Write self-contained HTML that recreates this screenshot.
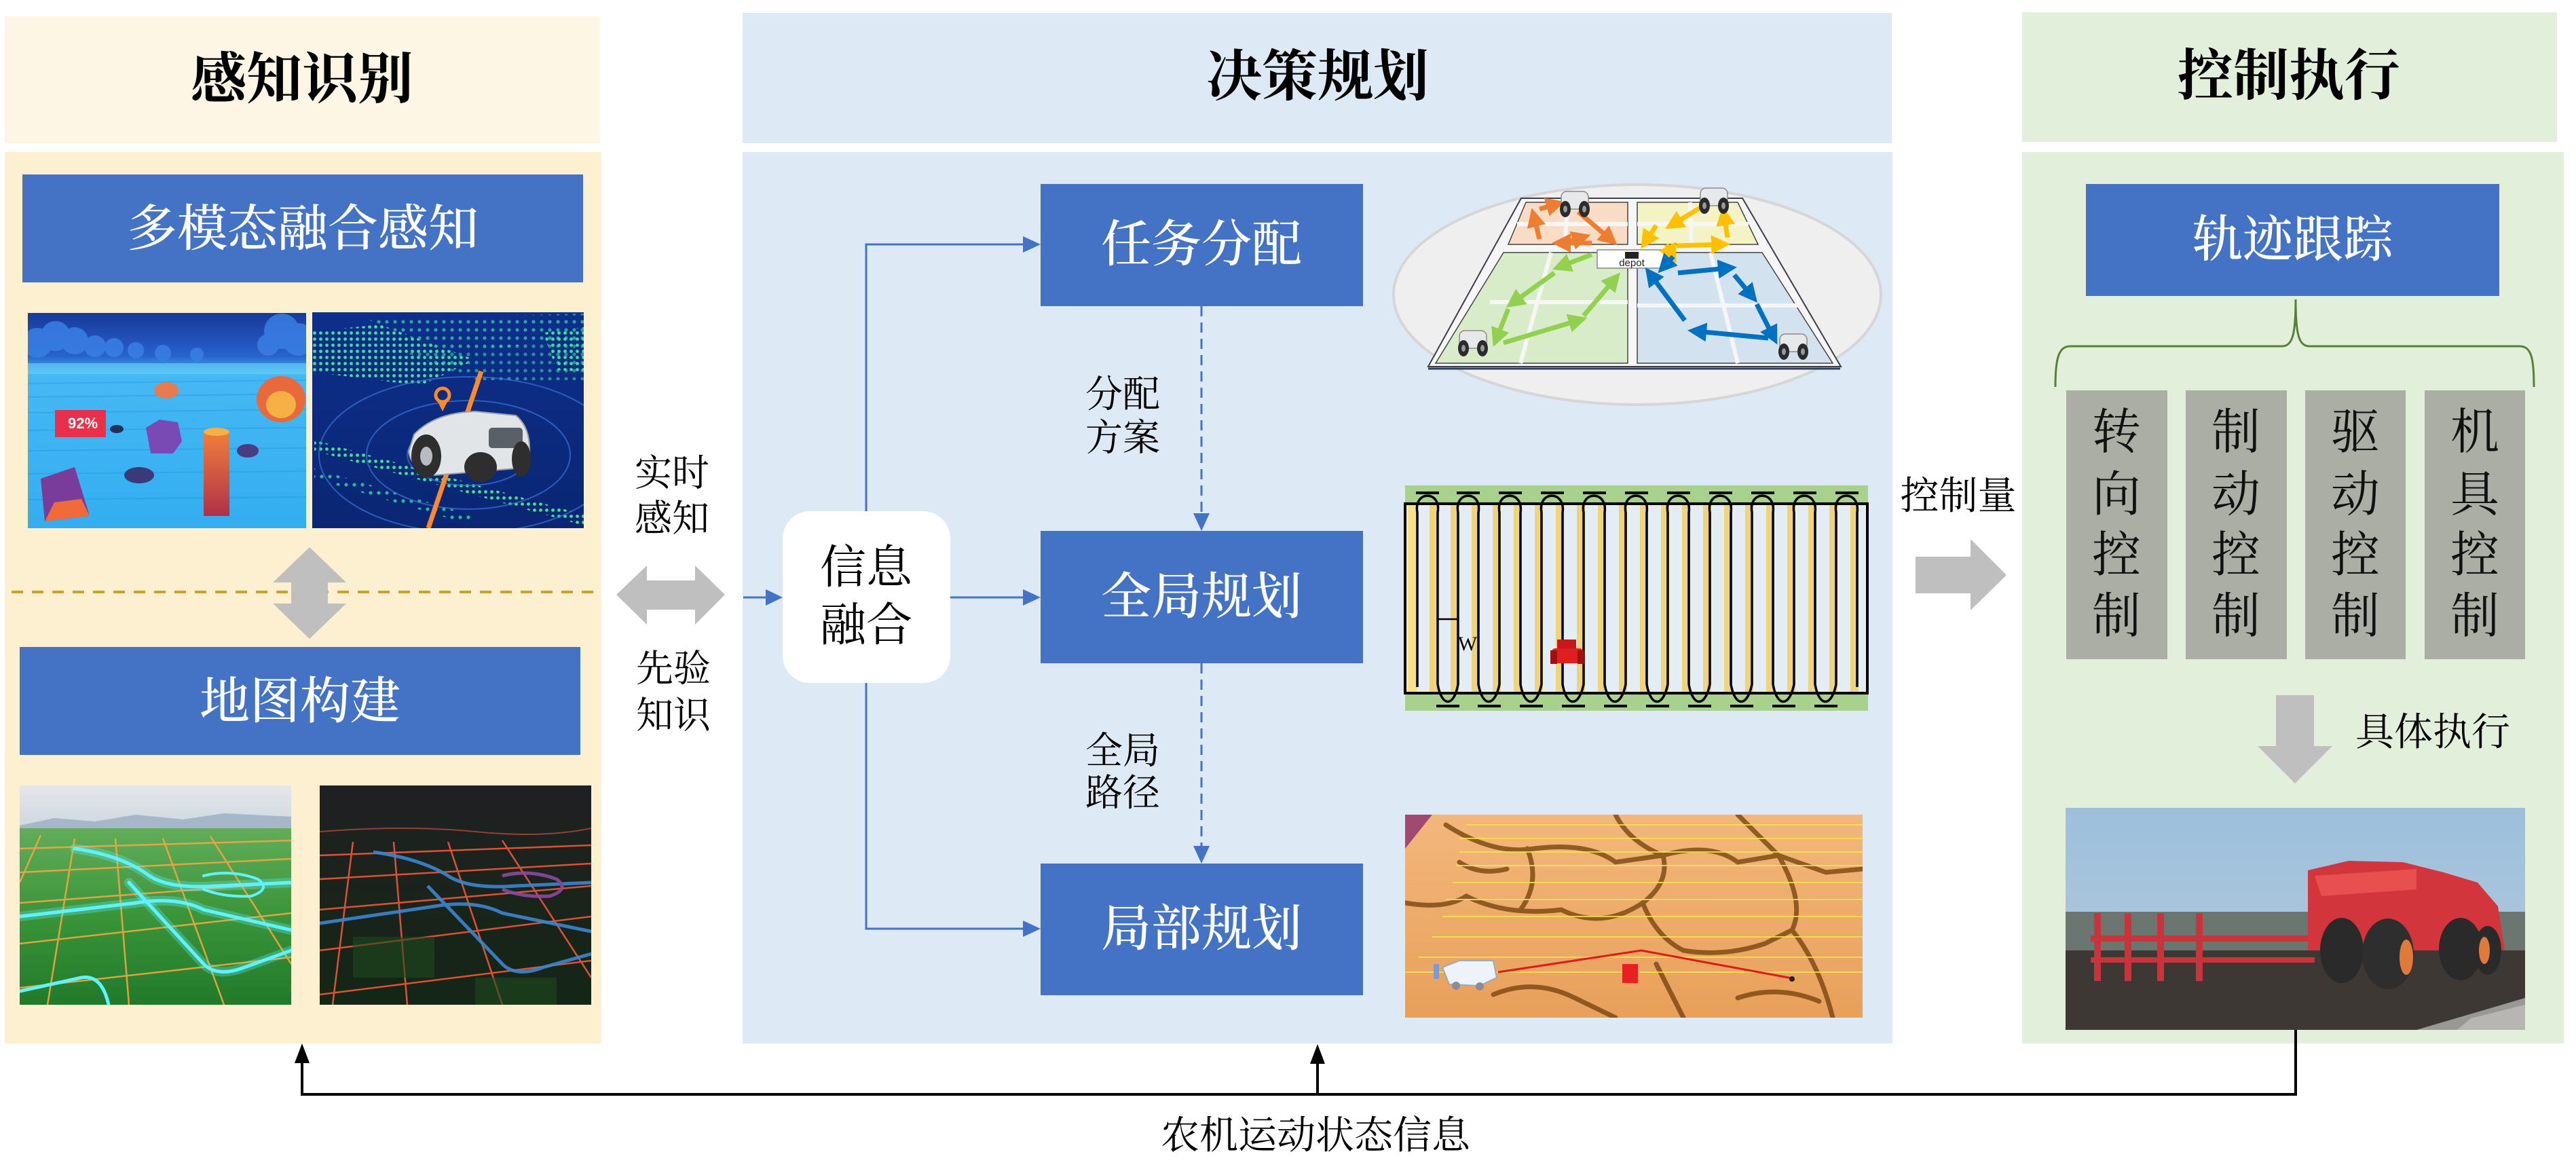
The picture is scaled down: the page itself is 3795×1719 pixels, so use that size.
<!DOCTYPE html>
<html><head><meta charset="utf-8"><style>
html,body{margin:0;padding:0;background:#fff;}
body{width:3795px;height:1719px;overflow:hidden;}
svg{display:block;}
.s{font-family:"Liberation Serif","Noto Serif CJK SC",serif;}
.h{font-family:"Liberation Serif","Noto Serif CJK SC",serif;font-weight:700;}
.w{font-family:"Liberation Serif","Noto Serif CJK SC",serif;font-weight:500;fill:#fff;}
</style></head><body>
<svg width="3795" height="1719" viewBox="0 0 3795 1719" xmlns="http://www.w3.org/2000/svg">
<defs>
<linearGradient id="g1" x1="0" y1="0" x2="0" y2="1"><stop offset="0" stop-color="#18399a"/><stop offset="0.2" stop-color="#2762cc"/><stop offset="0.28" stop-color="#46b8f4"/><stop offset="1" stop-color="#33aef0"/></linearGradient>
<linearGradient id="g2" x1="0" y1="0" x2="0" y2="1"><stop offset="0" stop-color="#0d2f8c"/><stop offset="1" stop-color="#0a2673"/></linearGradient>
<linearGradient id="g3" x1="0" y1="0" x2="0" y2="1"><stop offset="0" stop-color="#62ad5a"/><stop offset="0.5" stop-color="#3a9439"/><stop offset="1" stop-color="#217a2a"/></linearGradient>
<linearGradient id="g3s" x1="0" y1="0" x2="0" y2="1"><stop offset="0" stop-color="#e4e7ea"/><stop offset="1" stop-color="#cfd8e0"/></linearGradient>
<linearGradient id="g4" x1="0" y1="0" x2="0" y2="1"><stop offset="0" stop-color="#1f2023"/><stop offset="0.4" stop-color="#1b231c"/><stop offset="1" stop-color="#142616"/></linearGradient>
<linearGradient id="g5" x1="0" y1="0" x2="0" y2="1"><stop offset="0" stop-color="#f3b77c"/><stop offset="1" stop-color="#e8a05a"/></linearGradient>
<linearGradient id="g6" x1="0" y1="0" x2="0" y2="1"><stop offset="0" stop-color="#9dbfdc"/><stop offset="1" stop-color="#b5cbdb"/></linearGradient>
<linearGradient id="g7" x1="0" y1="0" x2="0" y2="1"><stop offset="0" stop-color="#f0803a"/><stop offset="1" stop-color="#b0304a"/></linearGradient>
<pattern id="dots" width="9" height="9" patternUnits="userSpaceOnUse"><circle cx="4.5" cy="4.5" r="2.4" fill="#3fe38b"/></pattern>
<pattern id="dots2" width="12" height="12" patternUnits="userSpaceOnUse"><circle cx="6" cy="6" r="2.6" fill="#39d6a0"/></pattern>
<clipPath id="c1"><rect x="41" y="461" width="410" height="317"/></clipPath>
<clipPath id="c2"><rect x="460" y="460" width="400" height="318"/></clipPath>
<clipPath id="c3"><rect x="29" y="1157" width="400" height="323"/></clipPath>
<clipPath id="c4"><rect x="471" y="1157" width="400" height="323"/></clipPath>
<clipPath id="c5"><rect x="2070" y="1200" width="674" height="299"/></clipPath>
<clipPath id="c6"><rect x="3043" y="1190" width="677" height="327"/></clipPath>
<marker id="mo" markerWidth="4" markerHeight="4" refX="2" refY="2" orient="auto"><path d="M0,0 L4,2 L0,4 Z" fill="#ed7d31"/></marker>
<marker id="my" markerWidth="4" markerHeight="4" refX="2" refY="2" orient="auto"><path d="M0,0 L4,2 L0,4 Z" fill="#ffc000"/></marker>
<marker id="mg" markerWidth="4" markerHeight="4" refX="2" refY="2" orient="auto"><path d="M0,0 L4,2 L0,4 Z" fill="#92d050"/></marker>
<marker id="mb" markerWidth="4" markerHeight="4" refX="2" refY="2" orient="auto"><path d="M0,0 L4,2 L0,4 Z" fill="#0070c0"/></marker>
<g id="bot">
<rect x="-20" y="-18" width="40" height="26" rx="8" fill="#e6e8ea" stroke="#8a8a8a" stroke-width="1.5"/>
<ellipse cx="-14" cy="8" rx="8" ry="12" fill="#2b2b2b"/>
<ellipse cx="14" cy="8" rx="8" ry="12" fill="#2b2b2b"/>
<ellipse cx="-14" cy="8" rx="3" ry="5" fill="#999"/>
<ellipse cx="14" cy="8" rx="3" ry="5" fill="#999"/>
</g>
</defs>

<!-- ===== Panels ===== -->
<rect x="7" y="24" width="877" height="187" fill="#fef6e5"/>
<rect x="7" y="224" width="879" height="1313" fill="#fdf0d0"/>
<rect x="1094" y="19" width="1693" height="192" fill="#dde9f5"/>
<rect x="1094" y="224" width="1694" height="1313" fill="#dde9f5"/>
<rect x="2979" y="18" width="788" height="191" fill="#e2efda"/>
<rect x="2979" y="224" width="798" height="1313" fill="#e2efda"/>

<!-- Titles -->
<text class="h" x="445" y="117" font-size="82" text-anchor="middle" dominant-baseline="central">感知识别</text>
<text class="h" x="1941" y="113" font-size="82" text-anchor="middle" dominant-baseline="central">决策规划</text>
<text class="h" x="3372" y="112" font-size="82" text-anchor="middle" dominant-baseline="central">控制执行</text>

<!-- ===== Left panel ===== -->
<rect x="33" y="257" width="826" height="159" fill="#4472c4"/>
<text class="w" x="446" y="338" font-size="74" text-anchor="middle" dominant-baseline="central">多模态融合感知</text>

<!-- Image L1 thermal -->
<g clip-path="url(#c1)">
<rect x="41" y="461" width="410" height="317" fill="url(#g1)"/>
<g fill="#3a7fe4" opacity="0.85">
<circle cx="55" cy="505" r="22"/><circle cx="82" cy="495" r="22"/><circle cx="110" cy="502" r="20"/><circle cx="140" cy="510" r="16"/><circle cx="168" cy="512" r="14"/><circle cx="200" cy="516" r="12"/><circle cx="240" cy="520" r="12"/><circle cx="290" cy="522" r="10"/>
<circle cx="415" cy="488" r="26"/><circle cx="440" cy="500" r="24"/><circle cx="395" cy="508" r="16"/>
</g>
<rect x="41" y="535" width="410" height="16" fill="#6ad2f8" opacity="0.6"/>
<g stroke="#2190da" stroke-width="2" opacity="0.35">
<line x1="41" y1="565" x2="451" y2="560"/><line x1="41" y1="585" x2="451" y2="580"/><line x1="41" y1="608" x2="451" y2="603"/><line x1="41" y1="634" x2="451" y2="630"/><line x1="41" y1="664" x2="451" y2="660"/><line x1="41" y1="698" x2="451" y2="694"/><line x1="41" y1="736" x2="451" y2="732"/>
</g>
<ellipse cx="414" cy="588" rx="36" ry="34" fill="#e86a3c"/>
<ellipse cx="414" cy="596" rx="22" ry="20" fill="#f6b046"/>
<ellipse cx="245" cy="575" rx="18" ry="12" fill="#e87a50"/>
<path d="M215,630 L235,618 L262,622 L268,650 L255,668 L222,668 Z" fill="#7a4ab4"/>
<rect x="300" y="635" width="38" height="125" fill="url(#g7)"/>
<ellipse cx="319" cy="636" rx="19" ry="6" fill="#f6b046"/>
<path d="M60,705 L110,688 L132,760 L66,768 Z" fill="#7a3c9a"/>
<path d="M66,768 L132,760 L120,735 L80,740 Z" fill="#f06a3a"/>
<ellipse cx="205" cy="700" rx="22" ry="12" fill="#3a3a7a"/>
<ellipse cx="365" cy="664" rx="16" ry="10" fill="#4a3c80"/>
<ellipse cx="172" cy="632" rx="10" ry="6" fill="#22305a"/>
<rect x="81" y="604" width="75" height="40" fill="#e8304a"/>
<text x="122" y="631" font-family="Liberation Sans, sans-serif" font-weight="700" font-size="22" fill="#fff" text-anchor="middle">92%</text>
</g>

<!-- Image L2 robot -->
<g clip-path="url(#c2)">
<rect x="460" y="460" width="400" height="318" fill="url(#g2)"/>
<path d="M460,488 L560,478 L700,530 L620,568 L460,548 Z" fill="url(#dots)"/>
<path d="M540,470 L860,462 L860,500 L660,520 Z" fill="url(#dots2)" opacity="0.7"/>
<path d="M800,490 L860,482 L860,548 L820,545 Z" fill="url(#dots)"/>
<path d="M600,520 L860,500 L860,560 L700,560 Z" fill="url(#dots2)" opacity="0.6"/>
<path d="M463,648 L860,758 L860,774 L463,664 Z" fill="url(#dots)"/>
<path d="M463,690 L700,760 L690,772 L463,705 Z" fill="url(#dots2)" opacity="0.8"/>
<g fill="none" stroke="#3a74d8" stroke-width="2" opacity="0.7">
<ellipse cx="690" cy="670" rx="90" ry="45"/><ellipse cx="690" cy="670" rx="150" ry="80"/><ellipse cx="690" cy="670" rx="220" ry="115"/>
</g>
<line x1="709" y1="547" x2="631" y2="778" stroke="#ff8a2a" stroke-width="7"/>
<circle cx="652" cy="582" r="10" fill="none" stroke="#ff8a2a" stroke-width="5"/>
<path d="M645,592 L652,606 L659,592 Z" fill="#ff8a2a"/>
<path d="M610,640 Q640,608 700,606 L760,612 Q782,630 780,668 L760,690 L640,700 Q605,690 602,665 Z" fill="#e2e5e8" stroke="#9aa0a6" stroke-width="2"/>
<rect x="720" y="630" width="50" height="30" rx="5" fill="#5a6068"/>
<ellipse cx="628" cy="672" rx="22" ry="32" fill="#2e2e2e"/>
<ellipse cx="628" cy="672" rx="9" ry="14" fill="#b8bcc0"/>
<ellipse cx="708" cy="688" rx="24" ry="22" fill="#2e2e2e"/>
<ellipse cx="768" cy="676" rx="14" ry="26" fill="#2e2e2e"/>
</g>

<!-- dashed separator -->
<line x1="17" y1="872" x2="877" y2="872" stroke="#c9a227" stroke-width="4" stroke-dasharray="17 13"/>
<!-- vertical double arrow -->
<polygon points="456,806 510,858 483,858 483,889 510,889 456,941 402,889 429,889 429,858 402,858" fill="#bfbfbf"/>

<rect x="29" y="953" width="826" height="159" fill="#4472c4"/>
<text class="w" x="442" y="1034" font-size="74" text-anchor="middle" dominant-baseline="central">地图构建</text>

<!-- Image L3 green map -->
<g clip-path="url(#c3)">
<rect x="29" y="1157" width="400" height="62" fill="url(#g3s)"/>
<polygon points="29,1216 80,1205 140,1210 200,1200 270,1207 330,1198 429,1203 429,1225 29,1225" fill="#a6b7cb"/>
<rect x="29" y="1220" width="400" height="260" fill="url(#g3)"/>
<g stroke="#f4a640" stroke-width="2.5" fill="none" opacity="0.9">
<line x1="29" y1="1250" x2="429" y2="1238"/><line x1="29" y1="1285" x2="429" y2="1265"/><line x1="29" y1="1330" x2="429" y2="1300"/><line x1="29" y1="1390" x2="429" y2="1345"/><line x1="29" y1="1455" x2="429" y2="1410"/>
<line x1="60" y1="1230" x2="29" y2="1300"/><line x1="110" y1="1235" x2="70" y2="1480"/><line x1="170" y1="1235" x2="190" y2="1480"/><line x1="240" y1="1235" x2="330" y2="1480"/><line x1="310" y1="1232" x2="429" y2="1420"/>
</g>
<g fill="none" stroke="#5ff3ff" stroke-linecap="round">
<path d="M110,1250 Q180,1260 220,1290 Q250,1310 320,1305 L429,1300" stroke-width="14" opacity="0.3"/>
<path d="M110,1250 Q180,1260 220,1290 Q250,1310 320,1305 L429,1300" stroke-width="5"/>
<path d="M29,1350 L200,1330 Q260,1320 300,1340 L429,1370" stroke-width="14" opacity="0.3"/>
<path d="M29,1350 L200,1330 Q260,1320 300,1340 L429,1370" stroke-width="5"/>
<path d="M190,1300 L300,1420 Q320,1440 360,1425 L429,1400" stroke-width="14" opacity="0.3"/>
<path d="M190,1300 L300,1420 Q320,1440 360,1425 L429,1400" stroke-width="5"/>
<path d="M29,1460 L120,1440 Q150,1435 160,1480" stroke-width="5"/>
<path d="M300,1290 Q340,1280 380,1295 Q400,1310 370,1320 Q330,1322 300,1310" stroke-width="4"/>
</g>
</g>

<!-- Image L4 dark map -->
<g clip-path="url(#c4)">
<rect x="471" y="1157" width="400" height="323" fill="url(#g4)"/>
<path d="M471,1225 Q600,1215 700,1225 T871,1220" stroke="#c0503a" stroke-width="2" fill="none" opacity="0.7"/>
<g stroke="#ff5a3a" stroke-width="2.5" fill="none" opacity="0.85">
<line x1="471" y1="1260" x2="871" y2="1245"/><line x1="471" y1="1295" x2="871" y2="1272"/><line x1="471" y1="1340" x2="871" y2="1305"/><line x1="471" y1="1400" x2="871" y2="1350"/><line x1="471" y1="1465" x2="871" y2="1415"/>
<line x1="520" y1="1240" x2="490" y2="1480"/><line x1="580" y1="1240" x2="600" y2="1480"/><line x1="660" y1="1240" x2="740" y2="1480"/><line x1="740" y1="1238" x2="871" y2="1440"/>
</g>
<g fill="none" stroke="#3a86d0" stroke-width="5" opacity="0.9">
<path d="M550,1255 Q620,1265 660,1290 Q690,1310 760,1305 L871,1300"/>
<path d="M471,1360 L640,1335 Q700,1325 740,1345 L871,1372"/>
<path d="M630,1305 L740,1420 Q760,1440 800,1425 L871,1405"/>
<path d="M740,1290 Q780,1280 820,1295 Q840,1310 810,1320 Q770,1322 740,1310" stroke="#8a4aa0"/>
</g>
<g fill="#1e4a1e" opacity="0.6"><rect x="520" y="1380" width="120" height="60"/><rect x="700" y="1440" width="120" height="40"/></g>
</g>

<!-- Between left & middle -->
<text class="s" x="990" y="697" font-size="55" text-anchor="middle" dominant-baseline="central">实时</text>
<text class="s" x="990" y="764" font-size="55" text-anchor="middle" dominant-baseline="central">感知</text>
<polygon points="908,876 953,833 953,855 1024,855 1024,833 1068,876 1024,920 1024,898 953,898 953,920" fill="#bfbfbf"/>
<text class="s" x="992" y="985" font-size="55" text-anchor="middle" dominant-baseline="central">先验</text>
<text class="s" x="992" y="1054" font-size="55" text-anchor="middle" dominant-baseline="central">知识</text>

<!-- ===== Middle panel ===== -->
<rect x="1153" y="753" width="247" height="253" rx="40" fill="#ffffff"/>
<text class="s" x="1276" y="836" font-size="68" text-anchor="middle" dominant-baseline="central">信息</text>
<text class="s" x="1276" y="921" font-size="68" text-anchor="middle" dominant-baseline="central">融合</text>

<rect x="1533" y="271" width="475" height="180" fill="#4472c4"/>
<text class="w" x="1770" y="361" font-size="74" text-anchor="middle" dominant-baseline="central">任务分配</text>
<rect x="1533" y="782" width="475" height="195" fill="#4472c4"/>
<text class="w" x="1770" y="880" font-size="74" text-anchor="middle" dominant-baseline="central">全局规划</text>
<rect x="1533" y="1272" width="475" height="194" fill="#4472c4"/>
<text class="w" x="1770" y="1369" font-size="74" text-anchor="middle" dominant-baseline="central">局部规划</text>

<!-- connectors -->
<g stroke="#4472c4" stroke-width="3" fill="none">
<line x1="1095" y1="880" x2="1130" y2="880"/>
<polyline points="1276,753 1276,360 1510,360"/>
<line x1="1400" y1="880" x2="1510" y2="880"/>
<polyline points="1276,1006 1276,1368 1510,1368"/>
<line x1="1770" y1="451" x2="1770" y2="760" stroke-dasharray="15 9"/>
<line x1="1770" y1="977" x2="1770" y2="1250" stroke-dasharray="15 9"/>
</g>
<g fill="#4472c4">
<polygon points="1153,880 1128,868 1128,892"/>
<polygon points="1533,360 1507,348 1507,372"/>
<polygon points="1533,880 1507,868 1507,892"/>
<polygon points="1533,1368 1507,1356 1507,1380"/>
<polygon points="1770,782 1758,756 1782,756"/>
<polygon points="1770,1272 1758,1246 1782,1246"/>
</g>
<text class="s" x="1654" y="581" font-size="55" text-anchor="middle" dominant-baseline="central">分配</text>
<text class="s" x="1654" y="645" font-size="55" text-anchor="middle" dominant-baseline="central">方案</text>
<text class="s" x="1654" y="1106" font-size="55" text-anchor="middle" dominant-baseline="central">全局</text>
<text class="s" x="1654" y="1168" font-size="55" text-anchor="middle" dominant-baseline="central">路径</text>

<!-- Image M1 ellipse task allocation -->
<ellipse cx="2412" cy="434" rx="359" ry="162" fill="#efefef" stroke="#d6d6d6" stroke-width="4"/>
<polygon points="2241,292 2567,292 2712,540 2104,540" fill="#f6f6f6" stroke="#3a3f4a" stroke-width="2"/>
<polygon points="2248,298 2398,298 2398,360 2222,360" fill="#f8dcc6" stroke="#444" stroke-width="1.5"/>
<polygon points="2412,298 2560,298 2590,360 2412,360" fill="#f3f3c6" stroke="#444" stroke-width="1.5"/>
<polygon points="2215,372 2398,372 2398,535 2115,535" fill="#d9ecca" stroke="#444" stroke-width="1.5"/>
<polygon points="2412,372 2596,372 2700,535 2412,535" fill="#d3e2ef" stroke="#444" stroke-width="1.5"/>
<g stroke="#f6f6f6" stroke-width="6">
<line x1="2310" y1="298" x2="2305" y2="360"/><line x1="2235" y1="330" x2="2398" y2="330"/>
<line x1="2490" y1="298" x2="2492" y2="360"/><line x1="2412" y1="330" x2="2576" y2="330"/>
<line x1="2285" y1="372" x2="2240" y2="535"/><line x1="2195" y1="445" x2="2398" y2="445"/>
<line x1="2520" y1="372" x2="2560" y2="535"/><line x1="2412" y1="450" x2="2650" y2="450"/>
</g>
<line x1="2104" y1="543" x2="2711" y2="543" stroke="#2e3d5c" stroke-width="3"/>
<rect x="2353" y="368" width="102" height="27" fill="#fff" stroke="#888" stroke-width="1.5"/>
<text x="2404" y="392" font-family="Liberation Sans, sans-serif" font-size="15" text-anchor="middle" fill="#222">depot</text>
<rect x="2394" y="371" width="20" height="10" fill="#222"/>
<g fill="none" stroke-width="7">
<g stroke="#ed7d31" marker-end="url(#mo)">
<line x1="2325" y1="312" x2="2372" y2="352"/><line x1="2345" y1="358" x2="2300" y2="358"/><line x1="2268" y1="352" x2="2260" y2="320"/><line x1="2268" y1="308" x2="2292" y2="301"/><line x1="2298" y1="360" x2="2330" y2="350"/>
</g>
<g stroke="#ffc000" marker-end="url(#my)">
<line x1="2505" y1="306" x2="2465" y2="330"/><line x1="2440" y1="332" x2="2425" y2="355"/><line x1="2470" y1="362" x2="2535" y2="360"/><line x1="2545" y1="350" x2="2540" y2="318"/><line x1="2455" y1="360" x2="2463" y2="375"/>
</g>
<g stroke="#92d050" marker-end="url(#mg)">
<line x1="2345" y1="375" x2="2300" y2="392"/><line x1="2290" y1="402" x2="2230" y2="445"/><line x1="2222" y1="455" x2="2205" y2="498"/><line x1="2215" y1="505" x2="2325" y2="472"/><line x1="2333" y1="465" x2="2378" y2="412"/>
</g>
<g stroke="#0070c0" marker-end="url(#mb)">
<line x1="2472" y1="402" x2="2545" y2="395"/><line x1="2555" y1="405" x2="2580" y2="435"/><line x1="2588" y1="448" x2="2612" y2="495"/><line x1="2605" y1="498" x2="2500" y2="488"/><line x1="2482" y1="472" x2="2432" y2="405"/><line x1="2465" y1="378" x2="2452" y2="392"/>
</g>
</g>
<use href="#bot" x="2320" y="300"/>
<use href="#bot" x="2525" y="295"/>
<use href="#bot" x="2170" y="505"/>
<use href="#bot" x="2642" y="510"/>

<!-- Image M2 striped field -->
<rect x="2070" y="715" width="682" height="332" fill="#a9d18e"/>
<rect x="2070" y="742" width="681" height="279" fill="#e4ecf4"/>
<g fill="#efd47c">
<rect x="2074" y="744" width="14" height="275" fill="#fbe08a"/>
<rect x="2106" y="744" width="12" height="275"/><rect x="2137" y="744" width="12" height="275"/><rect x="2168" y="744" width="12" height="275"/><rect x="2199" y="744" width="12" height="275"/><rect x="2230" y="744" width="12" height="275"/><rect x="2261" y="744" width="12" height="275"/><rect x="2292" y="744" width="12" height="275"/><rect x="2323" y="744" width="12" height="275"/><rect x="2354" y="744" width="12" height="275"/><rect x="2385" y="744" width="12" height="275"/><rect x="2416" y="744" width="12" height="275"/><rect x="2447" y="744" width="12" height="275"/><rect x="2478" y="744" width="12" height="275"/><rect x="2509" y="744" width="12" height="275"/><rect x="2540" y="744" width="12" height="275"/><rect x="2571" y="744" width="12" height="275"/><rect x="2602" y="744" width="12" height="275"/><rect x="2633" y="744" width="12" height="275"/><rect x="2664" y="744" width="12" height="275"/><rect x="2695" y="744" width="12" height="275"/><rect x="2726" y="744" width="12" height="275"/>
</g>
<rect x="2070" y="742" width="681" height="279" fill="none" stroke="#000" stroke-width="4"/>
<g stroke="#000" stroke-width="3.5" fill="none">
<path d="M2088,1012 V755 C2082,722 2124,722 2118,755 V1008 C2124,1042 2142,1042 2148,1008 V755 C2142,722 2184,722 2178,755 V1008 C2184,1042 2202,1042 2209,1008 V755 C2203,722 2245,722 2240,755 V1008 C2246,1042 2264,1042 2271,1008 V755 C2265,722 2307,722 2302,755 V1008 C2308,1042 2326,1042 2333,1008 V755 C2327,722 2369,722 2364,755 V1008 C2370,1042 2388,1042 2395,1008 V755 C2389,722 2431,722 2426,755 V1008 C2432,1042 2450,1042 2457,1008 V755 C2451,722 2493,722 2488,755 V1008 C2494,1042 2512,1042 2519,1008 V755 C2513,722 2555,722 2550,755 V1008 C2556,1042 2574,1042 2581,1008 V755 C2575,722 2617,722 2612,755 V1008 C2618,1042 2636,1042 2643,1008 V755 C2637,722 2679,722 2674,755 V1008 C2680,1042 2698,1042 2705,1008 V755 C2699,722 2741,722 2736,755 V1012"/>
</g>
<g stroke="#000" stroke-width="4">
<line x1="2086" y1="726" x2="2120" y2="726"/><line x1="2146" y1="726" x2="2180" y2="726"/><line x1="2208" y1="726" x2="2242" y2="726"/><line x1="2270" y1="726" x2="2304" y2="726"/><line x1="2332" y1="726" x2="2366" y2="726"/><line x1="2394" y1="726" x2="2428" y2="726"/><line x1="2456" y1="726" x2="2490" y2="726"/><line x1="2518" y1="726" x2="2552" y2="726"/><line x1="2580" y1="726" x2="2614" y2="726"/><line x1="2642" y1="726" x2="2676" y2="726"/><line x1="2704" y1="726" x2="2738" y2="726"/>
<line x1="2116" y1="1040" x2="2150" y2="1040"/><line x1="2177" y1="1040" x2="2211" y2="1040"/><line x1="2239" y1="1040" x2="2273" y2="1040"/><line x1="2301" y1="1040" x2="2335" y2="1040"/><line x1="2363" y1="1040" x2="2397" y2="1040"/><line x1="2425" y1="1040" x2="2459" y2="1040"/><line x1="2487" y1="1040" x2="2521" y2="1040"/><line x1="2549" y1="1040" x2="2583" y2="1040"/><line x1="2611" y1="1040" x2="2645" y2="1040"/><line x1="2673" y1="1040" x2="2707" y2="1040"/>
</g>
<line x1="2117" y1="912" x2="2147" y2="912" stroke="#000" stroke-width="2.5"/>
<text x="2162" y="958" font-family="Liberation Serif, serif" font-size="30" text-anchor="middle" fill="#000">W</text>
<g>
<rect x="2294" y="942" width="28" height="14" fill="#c81818"/>
<rect x="2286" y="955" width="46" height="22" rx="5" fill="#e02020"/>
<rect x="2284" y="958" width="10" height="20" fill="#a01010"/><rect x="2324" y="958" width="10" height="20" fill="#a01010"/>
</g>

<!-- Image M3 soil -->
<g clip-path="url(#c5)">
<rect x="2070" y="1200" width="674" height="299" fill="url(#g5)"/>
<polygon points="2070,1200 2110,1200 2070,1250" fill="#a04a70"/>
<g stroke="#7a4610" stroke-width="7" fill="none" opacity="0.8" stroke-linecap="round">
<path d="M2130,1215 Q2200,1260 2260,1250 Q2340,1240 2380,1270 L2450,1260 Q2520,1240 2560,1270 L2620,1260 L2690,1285 L2744,1280"/>
<path d="M2380,1200 Q2400,1240 2450,1260 Q2460,1300 2420,1330 Q2440,1380 2480,1400"/>
<path d="M2560,1200 Q2600,1240 2620,1260 Q2660,1330 2640,1370 Q2680,1420 2700,1499"/>
<path d="M2070,1330 Q2130,1340 2160,1320 Q2220,1350 2300,1340 Q2360,1370 2420,1330"/>
<path d="M2480,1400 Q2540,1410 2600,1390 L2640,1370"/>
<path d="M2440,1420 Q2460,1460 2480,1499"/>
<path d="M2200,1465 Q2260,1440 2320,1470 L2380,1499"/>
<path d="M2560,1470 Q2620,1450 2680,1475"/>
<path d="M2250,1250 Q2270,1300 2240,1340"/>
<path d="M2150,1270 Q2180,1290 2220,1280"/>
</g>
<g stroke="#f4e64a" stroke-width="2" opacity="0.85">
<line x1="2160" y1="1215" x2="2744" y2="1215"/><line x1="2150" y1="1235" x2="2744" y2="1235"/><line x1="2150" y1="1255" x2="2744" y2="1255"/><line x1="2145" y1="1275" x2="2744" y2="1275"/><line x1="2140" y1="1300" x2="2744" y2="1300"/><line x1="2130" y1="1325" x2="2744" y2="1325"/><line x1="2125" y1="1350" x2="2744" y2="1350"/><line x1="2110" y1="1380" x2="2744" y2="1380"/><line x1="2090" y1="1410" x2="2744" y2="1410"/><line x1="2070" y1="1432" x2="2744" y2="1432"/>
</g>
<path d="M2207,1432 L2418,1400 L2640,1441" stroke="#e01818" stroke-width="3" fill="none"/>
<circle cx="2640" cy="1442" r="4" fill="#222"/>
<rect x="2390" y="1420" width="23" height="28" fill="#e82020"/>
<path d="M2125,1425 L2150,1415 L2200,1415 L2205,1440 L2180,1452 L2135,1450 Z" fill="#eef2fa" stroke="#9ab" stroke-width="2"/>
<circle cx="2145" cy="1452" r="6" fill="#8a8a9a"/><circle cx="2180" cy="1453" r="6" fill="#8a8a9a"/>
<rect x="2112" y="1420" width="8" height="22" fill="#7a9ad8"/>
</g>

<!-- control amount -->
<text class="s" x="2885" y="731" font-size="57" text-anchor="middle" dominant-baseline="central">控制量</text>
<polygon points="2822,820 2903,820 2903,794 2956,847 2903,899 2903,874 2822,874" fill="#bfbfbf"/>

<!-- ===== Right panel ===== -->
<rect x="3073" y="271" width="609" height="165" fill="#4472c4"/>
<text class="w" x="3378" y="354" font-size="74" text-anchor="middle" dominant-baseline="central">轨迹跟踪</text>
<path d="M3028,570 C3028,530 3032,510 3050,510 L3362,510 C3378,510 3382,490 3382,441 C3382,490 3386,510 3402,510 L3712,510 C3730,510 3733,530 3733,570" fill="none" stroke="#548235" stroke-width="3"/>
<g fill="#aaaea5">
<rect x="3044" y="575" width="149" height="396"/>
<rect x="3220" y="575" width="149" height="396"/>
<rect x="3396" y="575" width="148" height="396"/>
<rect x="3572" y="575" width="148" height="396"/>
</g>
<g class="s" font-size="72" text-anchor="middle" dominant-baseline="central" fill="#111">
<text x="3118" y="637">转</text><text x="3118" y="729">向</text><text x="3118" y="818">控</text><text x="3118" y="908">制</text>
<text x="3294" y="637">制</text><text x="3294" y="729">动</text><text x="3294" y="818">控</text><text x="3294" y="908">制</text>
<text x="3470" y="637">驱</text><text x="3470" y="729">动</text><text x="3470" y="818">控</text><text x="3470" y="908">制</text>
<text x="3646" y="637">机</text><text x="3646" y="729">具</text><text x="3646" y="818">控</text><text x="3646" y="908">制</text>
</g>
<polygon points="3353,1024 3409,1024 3409,1099 3436,1099 3381,1154 3326,1099 3353,1099" fill="#bfbfbf"/>
<text class="s" x="3584" y="1079" font-size="57" text-anchor="middle" dominant-baseline="central">具体执行</text>

<!-- Image R photo -->
<g clip-path="url(#c6)">
<rect x="3043" y="1190" width="677" height="327" fill="url(#g6)"/>
<rect x="3043" y="1343" width="677" height="60" fill="#6c7670"/>
<rect x="3043" y="1400" width="677" height="117" fill="#3d3833"/>
<polygon points="3560,1517 3720,1470 3720,1517" fill="#9a9894"/>
<polygon points="3640,1500 3720,1480 3720,1517 3620,1517" fill="#b8b6b2"/>
<g fill="#c8343c">
<rect x="3085" y="1345" width="10" height="100"/><rect x="3130" y="1345" width="10" height="100"/><rect x="3178" y="1345" width="10" height="100"/><rect x="3235" y="1345" width="10" height="100"/>
<rect x="3080" y="1378" width="330" height="9"/><rect x="3080" y="1410" width="330" height="8"/>
</g>
<polygon points="3400,1282 3460,1268 3540,1270 3600,1285 3650,1300 3680,1335 3690,1400 3400,1400" fill="#d2363c"/>
<polygon points="3410,1290 3560,1280 3560,1310 3420,1320" fill="#e85050"/>
<ellipse cx="3450" cy="1400" rx="32" ry="48" fill="#2a2a2a"/>
<ellipse cx="3518" cy="1405" rx="38" ry="52" fill="#2e2e2e"/>
<ellipse cx="3625" cy="1398" rx="32" ry="46" fill="#2a2a2a"/>
<ellipse cx="3665" cy="1400" rx="20" ry="36" fill="#2a2a2a"/>
<ellipse cx="3545" cy="1410" rx="10" ry="26" fill="#e07a3a"/>
<ellipse cx="3660" cy="1400" rx="8" ry="20" fill="#e07a3a"/>
</g>

<!-- ===== Feedback loop ===== -->
<polyline points="3382,1517 3382,1612 445,1612 445,1562" fill="none" stroke="#000" stroke-width="4"/>
<line x1="1941" y1="1612" x2="1941" y2="1562" stroke="#000" stroke-width="4"/>
<polygon points="445,1537 434,1566 456,1566" fill="#000"/>
<polygon points="1941,1538 1930,1567 1952,1567" fill="#000"/>
<text class="s" x="1938" y="1673" font-size="57" text-anchor="middle" dominant-baseline="central">农机运动状态信息</text>
</svg>
</body></html>
